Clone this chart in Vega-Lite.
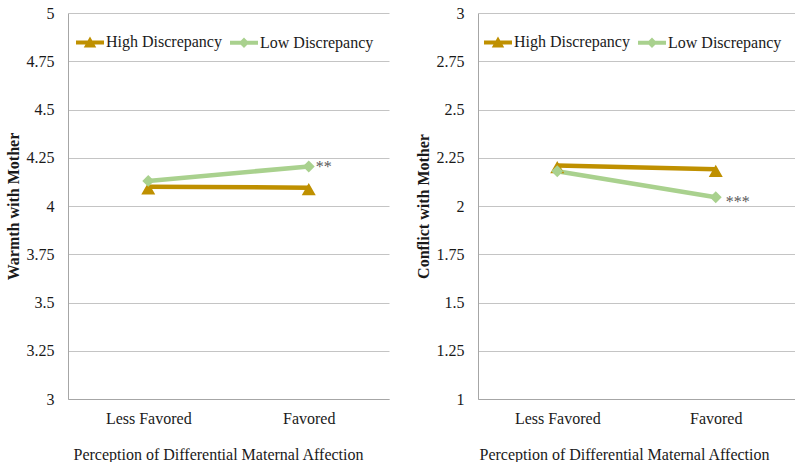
{
  "$schema": "https://vega.github.io/schema/vega-lite/v6.json",
  "padding": {"left": 5, "top": 5, "right": 0, "bottom": 0},
  "background": "white",
  "config": {
    "font": "Liberation Serif",
    "view": {"stroke": null},
    "axis": {
      "labelFont": "Liberation Serif", "titleFont": "Liberation Serif",
      "labelFontSize": 16, "titleFontSize": 16,
      "labelColor": "#1a1a1a", "titleColor": "#1a1a1a",
      "ticks": false, "tickSize": 0,
      "domainColor": "#A6A6A6", "gridColor": "#C4C4C4"
    },
    "legend": {"labelFont": "Liberation Serif", "labelFontSize": 16, "labelColor": "#1a1a1a", "symbolStrokeWidth": 4},
    "concat": {"spacing": 26}
  },
  "datasets": {
    "d": [
      {"panel": "Warmth", "perception": "Less Favored", "group": "High Discrepancy", "value": 4.10, "label": null},
      {"panel": "Warmth", "perception": "Favored", "group": "High Discrepancy", "value": 4.095, "label": null},
      {"panel": "Warmth", "perception": "Less Favored", "group": "Low Discrepancy", "value": 4.13, "label": null},
      {"panel": "Warmth", "perception": "Favored", "group": "Low Discrepancy", "value": 4.205, "label": "**"},
      {"panel": "Conflict", "perception": "Less Favored", "group": "High Discrepancy", "value": 2.21, "label": null},
      {"panel": "Conflict", "perception": "Favored", "group": "High Discrepancy", "value": 2.19, "label": null},
      {"panel": "Conflict", "perception": "Less Favored", "group": "Low Discrepancy", "value": 2.18, "label": null},
      {"panel": "Conflict", "perception": "Favored", "group": "Low Discrepancy", "value": 2.045, "label": "***"}
    ]
  },
  "resolve": {"scale": {"stroke": "independent", "fill": "independent", "shape": "independent"}},
  "hconcat": [
    {
      "width": 321, "height": 386,
      "data": {"name": "d"},
      "transform": [{"filter": "datum.panel === 'Warmth'"}],
      "encoding": {
        "x": {"field": "perception", "type": "nominal", "sort": ["Less Favored", "Favored"],
              "scale": {"type": "point", "padding": 0.5},
              "axis": {"labelAngle": 0, "labelPadding": 11, "titlePadding": 20, "domain": true, "grid": false, "titleFontWeight": "normal", "titleX": 150},
              "title": "Perception of Differential Maternal Affection"},
        "y": {"field": "value", "type": "quantitative",
              "scale": {"domain": [3, 5], "nice": false, "zero": false},
              "axis": {"values": [3, 3.25, 3.5, 3.75, 4, 4.25, 4.5, 4.75, 5], "format": ".2~f", "grid": true, "labelPadding": 14, "titlePadding": 5, "titleFontWeight": "bold", "domain": true},
              "title": "Warmth with Mother"}
      },
      "layer": [
        {"transform": [{"filter": "datum.group === 'High Discrepancy'"}],
         "mark": {"type": "line", "strokeWidth": 4.5, "color": "#BF9000"}, "encoding": {}},
        {"transform": [{"filter": "datum.group === 'Low Discrepancy'"}],
         "mark": {"type": "line", "strokeWidth": 4.5, "color": "#A9D18E"}, "encoding": {}},
        {"mark": {"type": "point", "filled": true, "opacity": 1, "size": 4900, "strokeWidth": 0},
         "encoding": {
           "fill": {"field": "group", "type": "nominal", "scale": {"domain": ["High Discrepancy", "Low Discrepancy"], "range": ["#BF9000", "#A9D18E"]},
                    "legend": {"title": null, "orient": "none", "legendX": 6, "legendY": 13, "direction": "horizontal", "symbolSize": 784, "symbolStrokeWidth": 4, "labelOffset": 0, "columnPadding": 0,
                               "encode": {"symbols": {"strokeWidth": {"value": 4}, "opacity": {"value": 1}, "strokeJoin": {"value": "round"}}}}},
           "stroke": {"field": "group", "type": "nominal", "scale": {"domain": ["High Discrepancy", "Low Discrepancy"], "range": ["#BF9000", "#A9D18E"]},
                    "legend": {"title": null, "orient": "none", "legendX": 6, "legendY": 13, "direction": "horizontal", "symbolSize": 784, "symbolStrokeWidth": 4, "labelOffset": 0, "columnPadding": 0,
                               "encode": {"symbols": {"strokeWidth": {"value": 4}, "opacity": {"value": 1}, "strokeJoin": {"value": "round"}}}}},
           "shape": {"field": "group", "type": "nominal", "scale": {"domain": ["High Discrepancy", "Low Discrepancy"], "range": ["M-1,0H1M-0.2,0.22L0,-0.13L0.2,0.22Z", "M-1,0H1M0,-0.17L0.17,0L0,0.17L-0.17,0Z"]},
                    "legend": {"title": null, "orient": "none", "legendX": 6, "legendY": 13, "direction": "horizontal", "symbolSize": 784, "symbolStrokeWidth": 4, "labelOffset": 0, "columnPadding": 0,
                               "encode": {"symbols": {"strokeWidth": {"value": 4}, "opacity": {"value": 1}, "strokeJoin": {"value": "round"}}}}}
         }},
        {"transform": [{"filter": "datum.label != null"}],
         "mark": {"type": "text", "align": "left", "baseline": "middle", "dx": 7, "dy": 1, "fontSize": 16, "font": "Liberation Serif", "color": "#595959"},
         "encoding": {"text": {"field": "label", "type": "nominal"}}}
      ]
    },
    {
      "width": 317, "height": 386,
      "data": {"name": "d"},
      "transform": [{"filter": "datum.panel === 'Conflict'"}],
      "encoding": {
        "x": {"field": "perception", "type": "nominal", "sort": ["Less Favored", "Favored"],
              "scale": {"type": "point", "padding": 0.5},
              "axis": {"labelAngle": 0, "labelPadding": 11, "titlePadding": 20, "domain": true, "grid": false, "titleFontWeight": "normal", "titleX": 146},
              "title": "Perception of Differential Maternal Affection"},
        "y": {"field": "value", "type": "quantitative",
              "scale": {"domain": [1, 3], "nice": false, "zero": false},
              "axis": {"values": [1, 1.25, 1.5, 1.75, 2, 2.25, 2.5, 2.75, 3], "format": ".2~f", "grid": true, "labelPadding": 14, "titlePadding": 5, "titleFontWeight": "bold", "domain": true},
              "title": "Conflict with Mother"}
      },
      "layer": [
        {"transform": [{"filter": "datum.group === 'High Discrepancy'"}],
         "mark": {"type": "line", "strokeWidth": 4.5, "color": "#BF9000"}, "encoding": {}},
        {"transform": [{"filter": "datum.group === 'Low Discrepancy'"}],
         "mark": {"type": "line", "strokeWidth": 4.5, "color": "#A9D18E"}, "encoding": {}},
        {"mark": {"type": "point", "filled": true, "opacity": 1, "size": 4900, "strokeWidth": 0},
         "encoding": {
           "fill": {"field": "group", "type": "nominal", "scale": {"domain": ["High Discrepancy", "Low Discrepancy"], "range": ["#BF9000", "#A9D18E"]},
                    "legend": {"title": null, "orient": "none", "legendX": 4, "legendY": 13, "direction": "horizontal", "symbolSize": 784, "symbolStrokeWidth": 4, "labelOffset": 0, "columnPadding": 0,
                               "encode": {"symbols": {"strokeWidth": {"value": 4}, "opacity": {"value": 1}, "strokeJoin": {"value": "round"}}}}},
           "stroke": {"field": "group", "type": "nominal", "scale": {"domain": ["High Discrepancy", "Low Discrepancy"], "range": ["#BF9000", "#A9D18E"]},
                    "legend": {"title": null, "orient": "none", "legendX": 4, "legendY": 13, "direction": "horizontal", "symbolSize": 784, "symbolStrokeWidth": 4, "labelOffset": 0, "columnPadding": 0,
                               "encode": {"symbols": {"strokeWidth": {"value": 4}, "opacity": {"value": 1}, "strokeJoin": {"value": "round"}}}}},
           "shape": {"field": "group", "type": "nominal", "scale": {"domain": ["High Discrepancy", "Low Discrepancy"], "range": ["M-1,0H1M-0.2,0.22L0,-0.13L0.2,0.22Z", "M-1,0H1M0,-0.17L0.17,0L0,0.17L-0.17,0Z"]},
                    "legend": {"title": null, "orient": "none", "legendX": 4, "legendY": 13, "direction": "horizontal", "symbolSize": 784, "symbolStrokeWidth": 4, "labelOffset": 0, "columnPadding": 0,
                               "encode": {"symbols": {"strokeWidth": {"value": 4}, "opacity": {"value": 1}, "strokeJoin": {"value": "round"}}}}}
         }},
        {"transform": [{"filter": "datum.label != null"}],
         "mark": {"type": "text", "align": "left", "baseline": "middle", "dx": 10, "dy": 5, "fontSize": 16, "font": "Liberation Serif", "color": "#595959"},
         "encoding": {"text": {"field": "label", "type": "nominal"}}}
      ]
    }
  ]
}
